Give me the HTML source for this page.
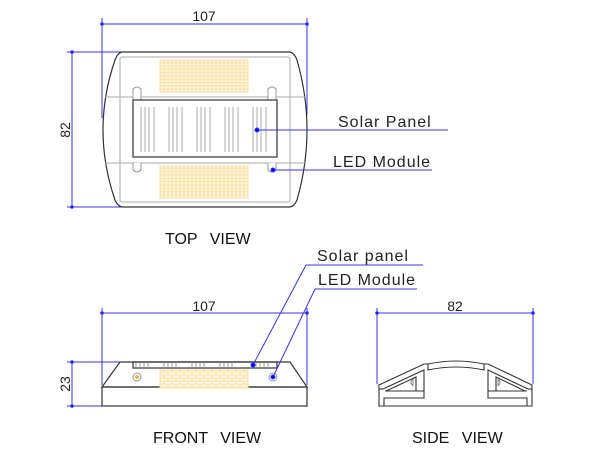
<!DOCTYPE html>
<html><head><meta charset="utf-8"><style>
html,body{margin:0;padding:0;background:#fff;}
svg{display:block;}
text{font-family:"Liberation Sans",sans-serif;}
</style></head><body>
<svg width="600" height="452" viewBox="0 0 600 452" xmlns="http://www.w3.org/2000/svg">
<defs>
<pattern id="grid" x="0" y="0" width="4" height="3.3" patternUnits="userSpaceOnUse">
<rect width="4" height="3.3" fill="#fbe2a6"/>
<rect x="0.8" y="0.7" width="2.6" height="2" fill="#fffaec"/>
</pattern>
<pattern id="brick" x="0" y="0" width="8" height="6" patternUnits="userSpaceOnUse">
<rect width="8" height="6" fill="#fbe2a6"/>
<rect x="0.7" y="0.6" width="6.6" height="2.2" fill="#fff7e2"/>
<rect x="-3.3" y="3.6" width="6.6" height="2.2" fill="#fff7e2"/>
<rect x="4.7" y="3.6" width="6.6" height="2.2" fill="#fff7e2"/>
</pattern>
</defs>

<!-- TOP VIEW -->
<g stroke="#3333ff" stroke-width="1" fill="#0000ff">
<line x1="102" y1="24" x2="307" y2="24"/>
<line x1="102" y1="18" x2="102" y2="118"/>
<line x1="307" y1="18" x2="307" y2="115"/>
<circle cx="102" cy="24" r="1.3"/><circle cx="307" cy="24" r="1.3"/>
<line x1="72" y1="52" x2="72" y2="207"/>
<line x1="67" y1="52" x2="122" y2="52"/>
<line x1="67" y1="207" x2="122" y2="207"/>
<circle cx="72" cy="52" r="1.3"/><circle cx="72" cy="207" r="1.3"/>
</g>
<text x="204" y="21" font-size="14" text-anchor="middle" fill="#222">107</text>
<text transform="translate(70,130) rotate(-90)" font-size="14" text-anchor="middle" fill="#222">82</text>

<path d="M123,52 L289,52 Q294,52 297,60 Q307,95 307,130 Q307,165 297,200 Q294,207 289,207 L123,207 Q118,207 115,200 Q103,165 103,130 Q103,95 115,60 Q118,52 123,52 Z" fill="none" stroke="#333" stroke-width="1.2"/>
<g stroke="#aaa" stroke-width="1" fill="none">
<rect x="120" y="57" width="170" height="145" rx="2"/>
<line x1="105" y1="97" x2="305" y2="97"/>
<line x1="105" y1="163" x2="305" y2="163"/>
</g>
<rect x="160" y="60" width="88" height="32" fill="url(#grid)" stroke="#f8dc9c"/>
<rect x="160" y="166" width="88" height="32" fill="url(#grid)" stroke="#f8dc9c"/>
<g stroke="#999" stroke-width="1" fill="#fff">
<path d="M133,101 L133,89 Q137,85 141,89 L141,101"/>
<path d="M268,101 L268,89 Q272,85 276,89 L276,101"/>
<path d="M133,163 L133,170 Q137,174 141,170 L141,163"/>
<path d="M268,163 L268,170 Q272,174 276,170 L276,163"/>
</g>
<rect x="133" y="100" width="144" height="57" fill="#fff" stroke="#333" stroke-width="1.2"/>
<g stroke="#aaa" stroke-width="1">
<g id="grp"><line x1="141" y1="107" x2="141" y2="152"/><line x1="145" y1="107" x2="145" y2="152"/><line x1="149" y1="107" x2="149" y2="152"/><line x1="154" y1="107" x2="154" y2="152"/></g>
<use href="#grp" x="28"/><use href="#grp" x="56"/><use href="#grp" x="84"/><use href="#grp" x="112"/>
</g>
<g stroke="#3333ff" stroke-width="1" fill="#0000ff">
<line x1="257" y1="130" x2="448" y2="130"/><circle cx="257" cy="130" r="2"/>
<line x1="273" y1="170" x2="432" y2="170"/><circle cx="273" cy="170" r="2"/>
</g>
<text x="338" y="127" font-size="16" fill="#222" letter-spacing="1">Solar Panel</text>
<text x="333" y="167" font-size="16" fill="#222" letter-spacing="1">LED Module</text>
<text x="165" y="244" font-size="16" fill="#111" word-spacing="8">TOP VIEW</text>

<!-- FRONT VIEW -->
<g stroke="#3333ff" stroke-width="1" fill="#0000ff">
<line x1="102" y1="313" x2="307" y2="313"/>
<line x1="102" y1="308" x2="102" y2="385"/>
<line x1="307" y1="308" x2="307" y2="385"/>
<circle cx="102" cy="313" r="1.3"/><circle cx="307" cy="313" r="1.3"/>
<line x1="72" y1="362" x2="72" y2="406"/>
<line x1="67" y1="362" x2="120" y2="362"/>
<line x1="67" y1="406" x2="102" y2="406"/>
<circle cx="72" cy="362" r="1.3"/><circle cx="72" cy="406" r="1.3"/>
</g>
<text x="204" y="311" font-size="14" text-anchor="middle" fill="#222">107</text>
<text transform="translate(70,384) rotate(-90)" font-size="14" text-anchor="middle" fill="#222">23</text>
<g fill="none" stroke="#333" stroke-width="1.2">
<path d="M102,387 L120,362 L290,362 L307,387 Z"/>
<rect x="102" y="387" width="205" height="19"/>
<rect x="133" y="362" width="144" height="6"/>
</g>
<g stroke="#999" stroke-width="1">
<line x1="136" y1="363" x2="136" y2="367"/><line x1="140" y1="363" x2="140" y2="367"/><line x1="144" y1="363" x2="144" y2="367"/><line x1="148" y1="363" x2="148" y2="367"/>
<line x1="164" y1="363" x2="164" y2="367"/><line x1="168" y1="363" x2="168" y2="367"/><line x1="172" y1="363" x2="172" y2="367"/><line x1="176" y1="363" x2="176" y2="367"/>
<line x1="192" y1="363" x2="192" y2="367"/><line x1="196" y1="363" x2="196" y2="367"/><line x1="200" y1="363" x2="200" y2="367"/><line x1="204" y1="363" x2="204" y2="367"/>
<line x1="220" y1="363" x2="220" y2="367"/><line x1="224" y1="363" x2="224" y2="367"/><line x1="228" y1="363" x2="228" y2="367"/><line x1="232" y1="363" x2="232" y2="367"/>
<line x1="256" y1="363" x2="256" y2="367"/><line x1="260" y1="363" x2="260" y2="367"/><line x1="264" y1="363" x2="264" y2="367"/><line x1="268" y1="363" x2="268" y2="367"/>
</g>
<rect x="160" y="370" width="88" height="18" fill="url(#brick)" stroke="#f8dc9c"/>
<circle cx="137" cy="377" r="4" fill="#fff" stroke="#999"/><circle cx="137" cy="377" r="2" fill="#f2b84a"/>
<circle cx="273" cy="377" r="4" fill="#fff" stroke="#999"/><circle cx="273" cy="377" r="2" fill="#f2b84a"/>
<g stroke="#3333ff" stroke-width="1" fill="#0000ff">
<polyline points="253,365 306,265 423,265" fill="none"/><circle cx="253" cy="365" r="2"/>
<polyline points="273,377 315,289 417,289" fill="none"/><circle cx="273" cy="377" r="2"/>
</g>
<text x="317" y="261" font-size="16" fill="#222" letter-spacing="1">Solar panel</text>
<text x="318" y="285" font-size="16" fill="#222" letter-spacing="1">LED Module</text>
<text x="153" y="443" font-size="16" fill="#111" word-spacing="8">FRONT VIEW</text>

<!-- SIDE VIEW -->
<g stroke="#3333ff" stroke-width="1" fill="#0000ff">
<line x1="377" y1="313" x2="533" y2="313"/>
<line x1="377" y1="308" x2="377" y2="384"/>
<line x1="533" y1="308" x2="533" y2="384"/>
<circle cx="377" cy="313" r="1.3"/><circle cx="533" cy="313" r="1.3"/>
</g>
<text x="455" y="311" font-size="14" text-anchor="middle" fill="#222">82</text>
<g fill="none" stroke="#333" stroke-width="1.1">
<path d="M379,406 L379,385 L424,364 L428,364 Q456,358 484,364 L488,364 L532,385 L532,406 Z"/>
<path d="M428,364 L428,370 Q456,364 484,370 L484,364"/>
<path d="M383,389 L424,370 L424,398 L384,398 L384,406"/>
<path d="M528,389 L488,370 L488,398 L527,398 L527,406"/>
<line x1="379" y1="389" x2="383" y2="389"/><line x1="528" y1="389" x2="532" y2="389"/>
<path d="M386,391 L416,377 L416,391 Z"/>
<path d="M525,391 L496,377 L496,391 Z"/>
<line x1="385" y1="391" x2="424" y2="391"/><line x1="488" y1="391" x2="527" y2="391"/>
</g>
<g fill="none" stroke="#888" stroke-width="1">
<path d="M413,379 Q409,382 413,386 M413,379 L413,386"/>
<path d="M498,379 Q502,382 498,386 M498,379 L498,386"/>
</g>
<text x="412" y="443" font-size="16" fill="#111" word-spacing="8">SIDE VIEW</text>
</svg>
</body></html>
